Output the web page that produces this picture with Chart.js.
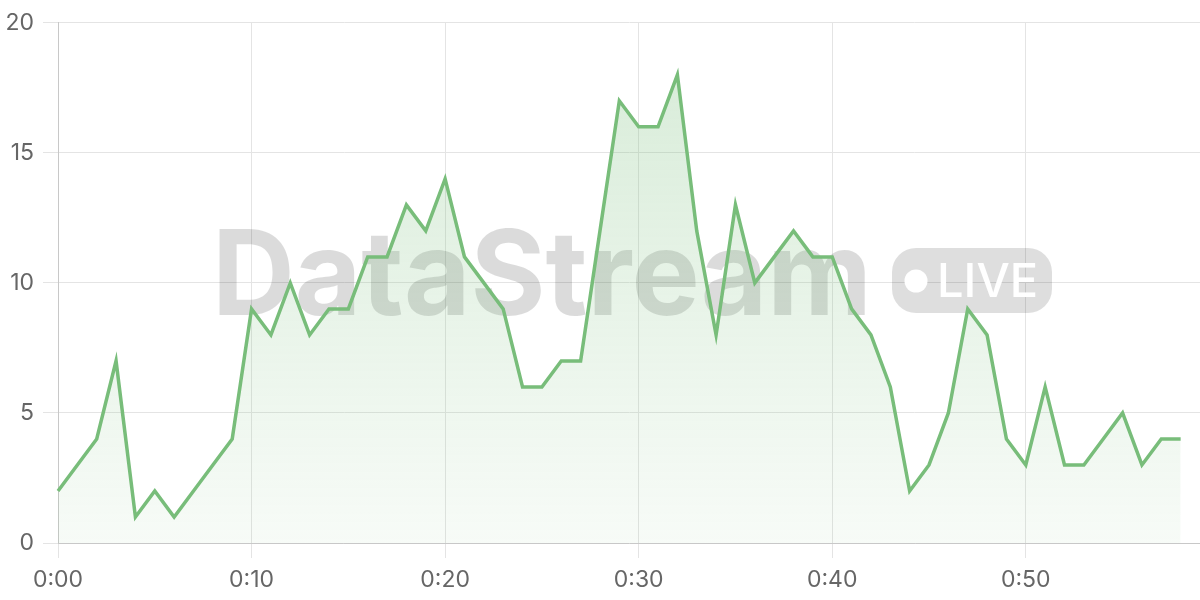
<!DOCTYPE html>
<html lang="en">
<head>
    <meta charset="UTF-8">
    <title>DataStream live</title>
    <script src="https://cdn.jsdelivr.net/npm/chart.js"></script>
    <style>
        body {
            margin: 0;
            background: white;
        }

        #wrap {
            width: 1200px;
            height: 600px;
            position: relative;
        }
    </style>
</head>
<body>
<div id="wrap"><canvas id="liveChart"></canvas></div>

<script>
    // one label per minute, 0:00 .. 0:59
    const minutes = [];
    for (let m = 0; m < 60; m++) {
        minutes.push('0:' + String(m).padStart(2, '0'));
    }

    const values = [
        2, 3, 4, 7, 1, 2, 1, 2, 3, 4,
        9, 8, 10, 8, 9, 9, 11, 11, 13, 12,
        14, 11, 10, 9, 6, 6, 7, 7, 12, 17,
        16, 16, 18, 12, 8, 13, 10, 11, 12, 11,
        11, 9, 8, 6, 2, 3, 5, 9, 8, 4,
        3, 6, 3, 3, 4, 5, 3, 4, 4
    ];

    const yTicks = [0, 5, 10, 15, 20];

    const tickFont = { family: 'Inter', size: 23 };

    // big grey "DataStream  •LIVE" stamp behind the line
    const watermark = {
        id: 'watermark',
        beforeDatasetsDraw(chart) {
            const c = chart.ctx;
            c.save();
            c.fillStyle = 'rgba(0, 0, 0, 0.14)';
            c.font = 'bold 118px Inter';
            c.textBaseline = 'alphabetic';
            c.textAlign = 'left';
            const w = c.measureText('DataStream').width;
            c.translate(212, 315);
            c.scale(660 / w, 1);
            c.fillText('DataStream', 0, 0);
            c.restore();

            c.save();
            c.fillStyle = 'rgba(0, 0, 0, 0.13)';
            c.beginPath();
            c.roundRect(892, 248, 160, 65, 24);
            c.fill();
            c.fillStyle = 'white';
            c.beginPath();
            c.arc(916, 281, 11.5, 0, Math.PI * 2);
            c.fill();
            c.font = '500 47px Inter';
            c.textBaseline = 'alphabetic';
            c.fillText('LIVE', 937, 297);
            c.restore();
        }
    };

    const ctx = document.getElementById('liveChart').getContext('2d');

    new Chart(ctx, {
        type: 'line',
        data: {
            labels: minutes,
            datasets: [{
                data: values,
                borderColor: '#78bd7a',
                borderWidth: 3.5,
                pointRadius: 0,
                tension: 0,
                fill: 'origin',
                backgroundColor: function(context) {
                    const area = context.chart.chartArea;
                    if (!area) return 'rgba(120, 189, 122, 0.1)';
                    const g = context.chart.ctx.createLinearGradient(0, area.top, 0, area.bottom);
                    g.addColorStop(0, 'rgba(120, 189, 122, 0.3)');
                    g.addColorStop(1, 'rgba(120, 189, 122, 0.06)');
                    return g;
                }
            }]
        },
        options: {
            responsive: true,
            maintainAspectRatio: false,
            animation: false,
            layout: {
                padding: { top: 5, right: 0, bottom: 0, left: 7 }
            },
            scales: {
                x: {
                    afterFit: function(scale) { scale.height = 57; },
                    ticks: {
                        autoSkip: false,
                        maxRotation: 0,
                        color: '#666',
                        font: tickFont,
                        padding: 8,
                        callback: function(value, index) {
                            return index % 10 === 0 ? minutes[index] : null;
                        }
                    },
                    grid: {
                        color: '#e4e4e4',
                        tickLength: 15
                    },
                    border: { color: '#c8c8c8' }
                },
                y: {
                    afterFit: function(scale) { scale.width = 51; },
                    min: yTicks[0],
                    max: yTicks[yTicks.length - 1],
                    ticks: {
                        stepSize: 5,
                        color: '#666',
                        font: tickFont,
                        padding: 9
                    },
                    grid: {
                        color: '#e4e4e4',
                        tickLength: 15
                    },
                    border: { color: '#c8c8c8' }
                }
            },
            plugins: {
                legend: { display: false },
                tooltip: { enabled: false }
            }
        },
        plugins: [watermark]
    });
</script>
</body>
</html>
